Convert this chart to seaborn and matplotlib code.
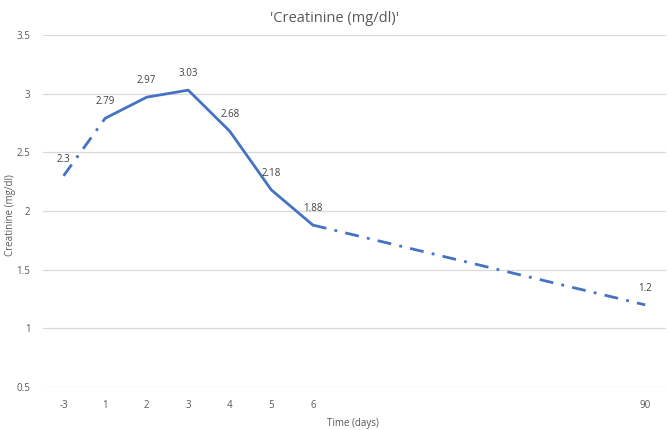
import numpy as np
import matplotlib.pyplot as plt
import seaborn as sns
import pandas as pd

# category axis as in the original spreadsheet (blank slots between day 6 and 90)
categories = ["-3", "1", "2", "3", "4", "5", "6", "", "", "", "", "", "", "", "90"]
days = ["-3", "1", "2", "3", "4", "5", "6", "90"]
creatinine = [2.3, 2.79, 2.97, 3.03, 2.68, 2.18, 1.88, 1.2]
yticks = [0.5, 1, 1.5, 2, 2.5, 3, 3.5]

blue = "#4472C4"
grey = "#595959"

sns.set_style("white")
plt.rcParams["font.family"] = ["Open Sans", "DejaVu Sans"]

df = pd.DataFrame({"day": days, "value": creatinine})
df["pos"] = [categories.index(d) for d in days]

fig = plt.figure(figsize=(6.69, 4.3), dpi=100)
ax = fig.add_axes([0.064, 0.1, 0.9315, 0.8186])

# solid part (day 1 to day 6), dash-dot for the gaps
solid = df[df["day"].isin(["1", "2", "3", "4", "5", "6"])]
first = df[df["day"].isin(["-3", "1"])]
last = df[df["day"].isin(["6", "90"])]

sns.lineplot(data=solid, x="pos", y="value", ax=ax, color=blue, lw=2)
for seg in (first, last):
    sns.lineplot(data=seg, x="pos", y="value", ax=ax, color=blue, lw=2,
                 dashes=False, linestyle=(0, (5, 3, 1, 3)))

for _, r in df.iterrows():
    ax.annotate(f"{r['value']:g}", (r["pos"], r["value"]), xytext=(0, 8),
                textcoords="offset points", ha="center", va="bottom",
                fontsize=7, color="#404040")

ax.set_xlim(-0.5, len(categories) - 0.5)
ax.set_ylim(0.5, 3.5)
ax.set_xticks(range(len(categories)))
ax.set_xticklabels(categories)
ax.set_yticks(yticks)
ax.set_yticklabels([f"{t:g}" for t in yticks])
ax.tick_params(axis="both", length=0, labelsize=7, colors=grey)
ax.tick_params(axis="x", pad=9)
ax.tick_params(axis="y", pad=9)
ax.grid(axis="y", color="#D9D9D9", lw=0.9)
ax.set_axisbelow(True)
sns.despine(ax=ax, left=True, bottom=True)
ax.set_xlabel("")
ax.set_ylabel("")

fig.text(0.5, 0.958, "'Creatinine (mg/dl)'", ha="center", va="center",
         fontsize=10.5, color=grey)
fig.text(0.528, 0.016, "Time (days)", ha="center", va="center",
         fontsize=7, color=grey)
fig.text(0.015, 0.5, "Creatinine (mg/dl)", ha="center", va="center",
         rotation=90, fontsize=7, color=grey)

fig.savefig("out.png", dpi=100)
